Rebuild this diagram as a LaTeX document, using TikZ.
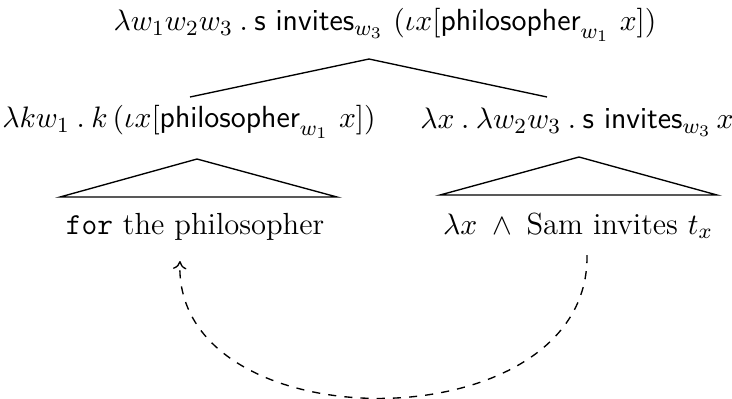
\documentclass[tikz,border=0pt]{standalone}
\usepackage{amsmath}
\usetikzlibrary{arrows.meta}
\begin{document}
\begin{tikzpicture}[x=0.37pt,y=-0.37pt,
  lbl/.style={inner sep=0pt,font=\fontsize{11.3}{13}\selectfont},
  branch/.style={line width=0.5pt},
  move/.style={dashed,line width=0.5pt,-{To[length=3pt,width=5pt]}}]
\useasboundingbox (0,0) rectangle (732,398);
\node[lbl] (top) at (385,25) {$\lambda w_1w_2w_3\mathbin{.}\textsf{s invites}_{w_3}\ (\iota x[\textsf{philosopher}_{w_1}\ x])$};
\node[lbl] (left) at (189,122) {$\lambda k w_1\mathbin{.}k\,(\iota x[\textsf{philosopher}_{w_1}\ x])$};
\node[lbl] (right) at (577,122) {$\lambda x\mathbin{.}\lambda w_2w_3\mathbin{.}\textsf{s invites}_{w_3}\,x$};
\node[lbl] (lb) at (195,227) {\texttt{for} the philosopher};
\node[lbl] (rb) at (578,226) {$\lambda x\;\wedge\;\text{Sam invites}\ t_x$};
\coordinate (ta) at (369,59);
\coordinate (tl) at (190,97);
\coordinate (tr) at (547,97);
\draw[branch] (tl) -- (ta) -- (tr);
\coordinate (la) at (197,159);
\coordinate (ll) at (60,197);
\coordinate (lr) at (337,197);
\draw[branch] (ll) -- (la) -- (lr) -- cycle;
\coordinate (ra) at (579,157);
\coordinate (rl) at (440,195);
\coordinate (rr) at (717,195);
\draw[branch] (rl) -- (ra) -- (rr) -- cycle;
\coordinate (from) at (587,255);
\coordinate (to) at (180,261);
\draw[move] (from) .. controls (590,445) and (172,445) .. (to);
\end{tikzpicture}
\end{document}
